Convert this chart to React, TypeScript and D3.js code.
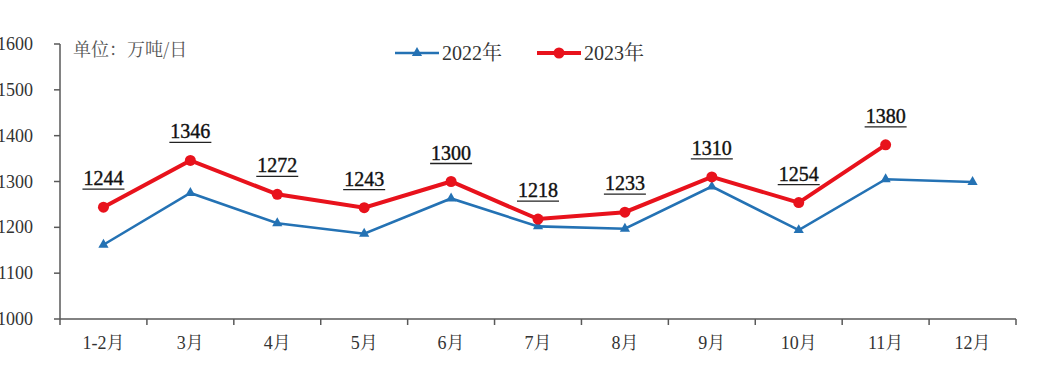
import React from 'react';
import * as d3 from 'd3';

const months = ['1-2月', '3月', '4月', '5月', '6月', '7月', '8月', '9月', '10月', '11月', '12月'];
const values2022 = [1162, 1275, 1209, 1186, 1263, 1202, 1197, 1289, 1194, 1305, 1299];
const values2023 = [1244, 1346, 1272, 1243, 1300, 1218, 1233, 1310, 1254, 1380];
const yTicks = [1000, 1100, 1200, 1300, 1400, 1500, 1600];

const W = 1054;
const H = 368;
const FONT = '"Liberation Serif", "Noto Serif CJK SC", serif';
const CJK = '"Noto Serif CJK SC", "Liberation Serif", serif';

const left = 60, right = 1016, top = 44, bottom = 319;
const axisColor = '#595959';
const blue = '#2472b4';
const red = '#e8121c';

const x = d3.scaleBand().domain(months).range([left, right]);
const y = d3.scaleLinear().domain([1000, 1600]).range([bottom, top]);
const cx = (i: number) => x(months[i])! + x.bandwidth() / 2;
const line = d3.line<number>().x((_, i) => cx(i)).y(d => y(d));
const tri = d3.symbol().type(d3.symbolTriangle).size(45)()!;

const App: React.FC = () => {
  const seps = d3.range(months.length + 1).map(i => left + i * x.bandwidth());
  return (
    <svg width={W} height={H} style={{ position: 'absolute', left: 0, top: 0, background: '#fff' }}>
      {/* y axis */}
      <line x1={left} x2={left} y1={top} y2={bottom} stroke={axisColor} strokeWidth={1.5} />
      {yTicks.map(t => (
        <g key={t} transform={`translate(0,${y(t)})`}>
          <line x1={left - 6} x2={left} stroke={axisColor} strokeWidth={1.5} />
          <text x={33} dy="0.34em" textAnchor="end" fontSize={18} fill="#333" style={{ fontFamily: FONT }}>{t}</text>
        </g>
      ))}
      {/* x axis */}
      <line x1={left} x2={right} y1={bottom} y2={bottom} stroke={axisColor} strokeWidth={1.5} />
      {seps.map((s, i) => (
        <line key={i} x1={s} x2={s} y1={bottom} y2={bottom + 6} stroke={axisColor} strokeWidth={1.5} />
      ))}
      {months.map((m, i) => (
        <text key={m} x={cx(i)} y={349} textAnchor="middle" fontSize={18} fill="#333" style={{ fontFamily: FONT }}>{m}</text>
      ))}
      {/* 2022 */}
      <path d={line(values2022)!} fill="none" stroke={blue} strokeWidth={2.6} />
      {values2022.map((v, i) => (
        <path key={i} d={tri} transform={`translate(${cx(i)},${y(v)})`} fill={blue} />
      ))}
      {/* 2023 */}
      <path d={line(values2023)!} fill="none" stroke={red} strokeWidth={4} />
      {values2023.map((v, i) => (
        <circle key={i} cx={cx(i)} cy={y(v)} r={5.5} fill={red} />
      ))}
      {/* value labels */}
      {values2023.map((v, i) => (
        <g key={i} transform={`translate(${cx(i)},${y(v) - 22})`}>
          <text textAnchor="middle" fontSize={20} fill="#111" stroke="#111" strokeWidth={0.4} style={{ fontFamily: FONT }}>{v}</text>
          <line x1={-21} x2={21} y1={4} y2={4} stroke="#222" strokeWidth={1.3} />
        </g>
      ))}
      {/* unit */}
      <text x={73} y={56} fontSize={18} fill="#555" style={{ fontFamily: CJK }}>单位：万吨/日</text>
      {/* legend */}
      <g transform="translate(395,53)">
        <line x1={0} x2={44} stroke={blue} strokeWidth={2.6} />
        <path d={tri} transform="translate(22,0)" fill={blue} />
        <text x={47} y={7} fontSize={20} fill="#333" style={{ fontFamily: FONT }}>2022年</text>
      </g>
      <g transform="translate(537,53)">
        <line x1={0} x2={44} stroke={red} strokeWidth={4} />
        <circle cx={22} cy={0} r={5.5} fill={red} />
        <text x={47} y={7} fontSize={20} fill="#333" style={{ fontFamily: FONT }}>2023年</text>
      </g>
    </svg>
  );
};

export default App;
